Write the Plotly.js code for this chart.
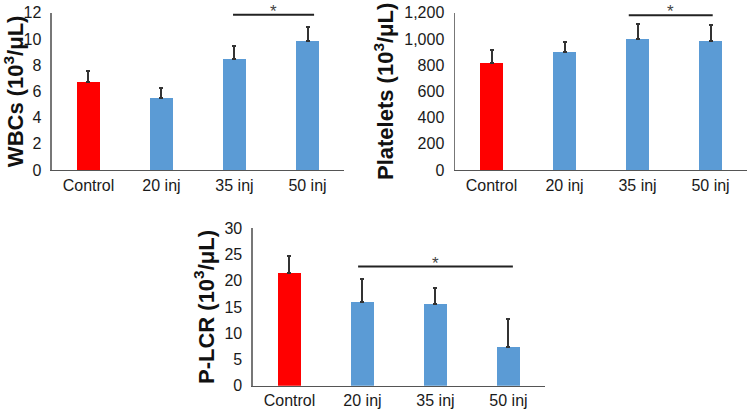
<!DOCTYPE html>
<html>
<head>
<meta charset="utf-8">
<script src="https://cdn.plot.ly/plotly-3.0.1.min.js"></script>
<style>html,body{margin:0;padding:0;background:#fff;}#chart{width:748px;height:410px;}</style>
</head>
<body>
<div id="chart"></div>
<script>
// Categories
const categories = ["Control", "20 inj", "35 inj", "50 inj"];

// WBCs (10^3/uL)
const wbcValues = [6.7, 5.5, 8.5, 9.85];
const wbcErrors = [0.85, 0.72, 0.97, 1.06];

// Platelets (10^3/uL)
const pltValues = [820, 897, 1001, 988];
const pltErrors = [97, 81, 113, 118];

// P-LCR (10^3/uL)
const plcrValues = [21.4, 16.0, 15.5, 7.3];
const plcrErrors = [3.4, 4.3, 3.1, 5.4];

// Significance brackets: [start category position, end category position, level]
const wbcSig = [1.98, 3.09, 11.85];
const pltSig = [1.88, 3.03, 1180];
const plcrSig = [0.94, 3.06, 22.7];

// Tick labels
const wbcTicks = [0, 2, 4, 6, 8, 10, 12];
const pltTicks = [0, 200, 400, 600, 800, 1000, 1200];
const pltTickText = ["0", "200", "400", "600", "800", "1,000", "1,200"];
const plcrTicks = [0, 5, 10, 15, 20, 25, 30];

const RED = "#ff0000";
const BLUE = "#5b9bd5";
const barColors = [RED, BLUE, BLUE, BLUE];
const FONT = "Liberation Sans, Arial, sans-serif";

function barTrace(vals, errs, xa, ya) {
  return {
    type: "bar",
    x: categories,
    y: vals,
    xaxis: xa,
    yaxis: ya,
    width: 0.32,
    marker: {color: barColors, line: {width: 0}},
    error_y: {
      type: "data",
      symmetric: false,
      array: errs,
      arrayminus: errs.map(() => 0),
      color: "#333333",
      thickness: 2,
      width: 2
    },
    showlegend: false,
    hoverinfo: "x+y"
  };
}

const data = [
  barTrace(wbcValues, wbcErrors, "x", "y"),
  barTrace(pltValues, pltErrors, "x2", "y2"),
  barTrace(plcrValues, plcrErrors, "x3", "y3")
];

function xAxis(domain, anchor) {
  return {
    domain: domain,
    anchor: anchor,
    type: "category",
    range: [-0.5, 3.5],
    showline: true,
    linecolor: "#555555",
    linewidth: 1.5,
    ticks: "",
    showgrid: false,
    zeroline: false,
    automargin: false,
    tickfont: {family: FONT, size: 16, color: "#1a1a1a"},
    fixedrange: true
  };
}

function yAxis(domain, anchor, range, tickvals, ticktext, title) {
  const ax = {
    domain: domain,
    anchor: anchor,
    range: range,
    tickmode: "array",
    tickvals: tickvals,
    showline: true,
    linecolor: "#777777",
    linewidth: 1.5,
    ticks: "",
    ticklabelstandoff: 6,
    showgrid: false,
    zeroline: false,
    automargin: false,
    tickfont: {family: FONT, size: 16, color: "#1a1a1a"},
    title: {text: title, font: {family: FONT, size: 22, color: "#111111", weight: "bold"}, standoff: 4},
    fixedrange: true
  };
  if (ticktext) ax.ticktext = ticktext;
  return ax;
}

const titleText = (name) => "<b>" + name + " (10<sup>3</sup>/μL)</b>";

function sigShape(sig, xref, yref) {
  return {
    type: "line", xref: xref, yref: yref,
    x0: sig[0], x1: sig[1], y0: sig[2], y1: sig[2],
    line: {color: "#222222", width: 2}
  };
}
function sigStar(sig, xref, yref) {
  return {
    xref: xref, yref: yref,
    x: (sig[0] + sig[1]) / 2, y: sig[2],
    text: "*", showarrow: false,
    yanchor: "bottom", yshift: -8,
    font: {family: FONT, size: 17, color: "#444444"}
  };
}

const layout = {
  width: 748,
  height: 410,
  margin: {l: 0, r: 0, t: 0, b: 0},
  paper_bgcolor: "#ffffff",
  plot_bgcolor: "#ffffff",
  bargap: 0,
  showlegend: false,
  xaxis: xAxis([0.0695, 0.4599], "y"),
  yaxis: yAxis([0.5854, 0.969], "x", [0, 12], wbcTicks, null, titleText("WBCs")),
  xaxis2: xAxis([0.6083, 0.9987], "y2"),
  yaxis2: yAxis([0.5854, 0.969], "x2", [0, 1200], pltTicks, pltTickText, titleText("Platelets")),
  xaxis3: xAxis([0.3382, 0.7286], "y3"),
  yaxis3: yAxis([0.0593, 0.4432], "x3", [0, 30], plcrTicks, null, titleText("P-LCR")),
  shapes: [
    sigShape(wbcSig, "x", "y"),
    sigShape(pltSig, "x2", "y2"),
    sigShape(plcrSig, "x3", "y3")
  ],
  annotations: [
    sigStar(wbcSig, "x", "y"),
    sigStar(pltSig, "x2", "y2"),
    sigStar(plcrSig, "x3", "y3")
  ]
};

Plotly.newPlot("chart", data, layout, {displayModeBar: false, staticPlot: true});
</script>
</body>
</html>
